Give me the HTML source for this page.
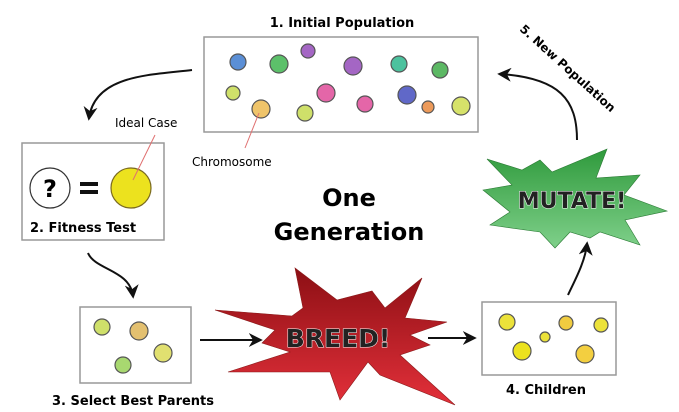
<!DOCTYPE html>
<html><head><meta charset="utf-8"><style>
html,body{margin:0;padding:0;background:#fff;}
svg{display:block;font-family:"DejaVu Sans","Liberation Sans",sans-serif;}
</style></head><body>
<svg width="679" height="412" viewBox="0 0 679 412" xmlns="http://www.w3.org/2000/svg">
<defs>
<linearGradient id="rg" x1="0" y1="0" x2="0" y2="1"><stop offset="0" stop-color="#8c0f14"/><stop offset="1" stop-color="#e3303a"/></linearGradient>
<linearGradient id="gg" x1="0" y1="0" x2="0" y2="1"><stop offset="0" stop-color="#2f9a3c"/><stop offset="1" stop-color="#7fd08a"/></linearGradient>
<marker id="ah" viewBox="0 0 10 10" refX="8" refY="5" markerWidth="7" markerHeight="7" orient="auto"><path d="M0,0 L10,5 L0,10 L3,5 Z" fill="#111"/></marker>
</defs>
<!-- Box 1 -->
<text x="342" y="27" font-size="13" font-weight="bold" text-anchor="middle">1. Initial Population</text>
<rect x="204" y="37" width="274" height="95" fill="#fff" stroke="#999" stroke-width="1.5"/>
<g stroke="#555" stroke-width="1.2">
<circle cx="238" cy="62" r="8" fill="#5b8fd6"/>
<circle cx="279" cy="64" r="9" fill="#5cc06a"/>
<circle cx="308" cy="51" r="7" fill="#a466c4"/>
<circle cx="353" cy="66" r="9" fill="#a466c4"/>
<circle cx="399" cy="64" r="8" fill="#4cc29e"/>
<circle cx="440" cy="70" r="8" fill="#5cb864"/>
<circle cx="233" cy="93" r="7" fill="#cfe06a"/>
<circle cx="261" cy="109" r="9" fill="#efc46a"/>
<circle cx="305" cy="113" r="8" fill="#cfe06a"/>
<circle cx="326" cy="93" r="9" fill="#e466a8"/>
<circle cx="365" cy="104" r="8" fill="#e466a8"/>
<circle cx="407" cy="95" r="9" fill="#6068c8"/>
<circle cx="428" cy="107" r="6" fill="#ec9a5a"/>
<circle cx="461" cy="106" r="9" fill="#d6e26a"/>
</g>
<line x1="259" y1="113" x2="245" y2="148" stroke="#e07070" stroke-width="1"/>
<text x="192" y="166" font-size="12">Chromosome</text>
<!-- arrow 1->2 -->
<path d="M192,70 C150,75 95,75 89,118" fill="none" stroke="#111" stroke-width="2" marker-end="url(#ah)"/>
<!-- Box 2 -->
<text x="115" y="127" font-size="12">Ideal Case</text>
<rect x="22" y="143" width="142" height="97" fill="#fff" stroke="#999" stroke-width="1.5"/>
<circle cx="50" cy="188" r="20" fill="#fff" stroke="#333" stroke-width="1.2"/>
<text x="50" y="197" font-size="24" font-weight="bold" text-anchor="middle">?</text>
<rect x="80" y="182" width="18" height="4" fill="#111"/>
<rect x="80" y="190" width="18" height="4" fill="#111"/>
<circle cx="131" cy="188" r="20" fill="#ece21e" stroke="#7a6a20" stroke-width="1.2"/>
<line x1="155" y1="135" x2="133" y2="180" stroke="#e07070" stroke-width="1"/>
<text x="30" y="232" font-size="13" font-weight="bold">2. Fitness Test</text>
<!-- arrow 2->3 -->
<path d="M88,253 C95,270 130,270 133,296" fill="none" stroke="#111" stroke-width="2" marker-end="url(#ah)"/>
<!-- Box 3 -->
<rect x="80" y="307" width="111" height="76" fill="#fff" stroke="#999" stroke-width="1.5"/>
<g stroke="#555" stroke-width="1.2">
<circle cx="102" cy="327" r="8" fill="#cfe06a"/>
<circle cx="139" cy="331" r="9" fill="#e3c070"/>
<circle cx="163" cy="353" r="9" fill="#e1e070"/>
<circle cx="123" cy="365" r="8" fill="#a8d870"/>
</g>
<text x="52" y="405" font-size="13" font-weight="bold">3. Select Best Parents</text>
<line x1="200" y1="340" x2="260" y2="340" stroke="#111" stroke-width="2" marker-end="url(#ah)"/>
<!-- BREED -->
<polygon points="295,268 337,300 372,291 385,308 422,278 405,318 447,322 410,335 430,345 400,355 455,405 380,375 368,362 340,400 330,372 228,372 290,352 262,343 275,330 215,310 292,316 303,308" fill="url(#rg)" stroke="#8a1a1a" stroke-width="0.6"/>
<text x="338" y="347" font-size="25" font-weight="bold" text-anchor="middle" fill="#222" stroke="#fff" stroke-width="1" paint-order="stroke">BREED!</text>
<line x1="428" y1="338" x2="474" y2="338" stroke="#111" stroke-width="2" marker-end="url(#ah)"/>
<!-- Box 4 -->
<rect x="482" y="302" width="134" height="73" fill="#fff" stroke="#999" stroke-width="1.5"/>
<g stroke="#555" stroke-width="1.2">
<circle cx="507" cy="322" r="8" fill="#ece23a"/>
<circle cx="545" cy="337" r="5" fill="#ece23a"/>
<circle cx="566" cy="323" r="7" fill="#f0cc40"/>
<circle cx="601" cy="325" r="7" fill="#ece23a"/>
<circle cx="522" cy="351" r="9" fill="#ece21e"/>
<circle cx="585" cy="354" r="9" fill="#f3cf40"/>
</g>
<text x="506" y="394" font-size="13" font-weight="bold">4. Children</text>
<path d="M568,295 C575,280 585,262 587,244" fill="none" stroke="#111" stroke-width="2" marker-end="url(#ah)"/>
<!-- MUTATE -->
<polygon points="487,159 522,170 540,160 552,172 607,149 596,178 640,175 624,195 667,211 625,220 640,245 600,232 590,238 570,232 555,248 540,232 490,225 510,212 483,190 512,185" fill="url(#gg)" stroke="#2a7a34" stroke-width="0.6"/>
<text x="572" y="208" font-size="22" text-anchor="middle" fill="#222" stroke="#fff" stroke-width="1" paint-order="stroke" font-weight="bold">MUTATE!</text>
<path d="M577,140 C577,100 560,78 500,74" fill="none" stroke="#111" stroke-width="2" marker-end="url(#ah)"/>
<text x="0" y="0" font-size="12" font-weight="bold" transform="translate(519,30) rotate(42)">5. New Population</text>
<!-- center text -->
<text x="349" y="206" font-size="24" font-weight="bold" text-anchor="middle">One</text>
<text x="349" y="240" font-size="24" font-weight="bold" text-anchor="middle">Generation</text>
</svg>
</body></html>
